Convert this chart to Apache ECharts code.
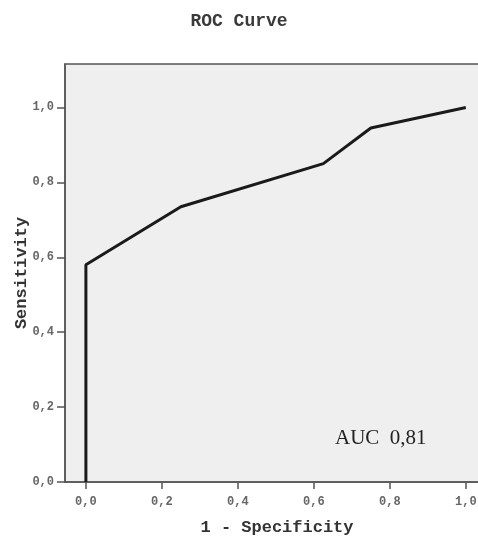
<!DOCTYPE html>
<html>
<head>
<meta charset="utf-8">
<script src="https://cdn.jsdelivr.net/npm/echarts@6/dist/echarts.min.js"></script>
<style>
html,body{margin:0;padding:0;background:#fff;}
#c{width:478px;height:537px;}
</style>
</head>
<body>
<div id="c"></div>
<script>
var titleText = 'ROC Curve';
var xName = '1 - Specificity';
var yName = 'Sensitivity';
var fpr = [0, 0, 0.25, 0.625, 0.75, 1.0];
var tpr = [0, 0.58, 0.735, 0.85, 0.945, 1.0];
var xTicks = [0, 0.2, 0.4, 0.6, 0.8, 1.0];
var yTicks = [0, 0.2, 0.4, 0.6, 0.8, 1.0];
var aucLabel = 'AUC  0,81';

var chart = echarts.init(document.getElementById('c'), null, {renderer: 'canvas'});
var mono = '"Liberation Mono", "DejaVu Sans Mono", monospace';
function fmt(v){ return v.toFixed(1).replace('.', ','); }

var pts = fpr.map(function(x, i){ return [x, tpr[i]]; });

chart.setOption({
  backgroundColor: '#ffffff',
  animation: false,
  title: {
    text: titleText,
    left: 'center',
    top: 7,
    textStyle: {fontFamily: mono, fontSize: 18, fontWeight: 'bold', color: '#3a3a3a'}
  },
  grid: {
    left: 65, top: 64, width: 424, height: 418,
    containLabel: false, outerBoundsMode: 'none',
    show: true, backgroundColor: '#efefef', borderColor: '#555', borderWidth: 1.5
  },
  xAxis: {
    type: 'value', min: -0.055, max: 1.061,
    name: xName, nameLocation: 'middle', nameGap: 37, nameMoveOverlap: false,
    nameTextStyle: {fontFamily: mono, fontSize: 17, fontWeight: 'bold', color: '#333'},
    axisLine: {show: true, onZero: false, lineStyle: {color: '#555', width: 1.5}},
    axisTick: {show: true, length: 7, customValues: xTicks, lineStyle: {color: '#555', width: 1.5}},
    axisLabel: {customValues: xTicks, formatter: fmt, margin: 14,
      fontFamily: mono, fontSize: 12, fontWeight: 'bold', color: '#666'},
    splitLine: {show: false}
  },
  yAxis: {
    type: 'value', min: 0, max: 1.116,
    name: yName, nameLocation: 'middle', nameGap: 35, nameMoveOverlap: false,
    nameTextStyle: {fontFamily: mono, fontSize: 17, fontWeight: 'bold', color: '#333'},
    axisLine: {show: true, onZero: false, lineStyle: {color: '#555', width: 1.5}},
    axisTick: {show: true, length: 8, customValues: yTicks, lineStyle: {color: '#555', width: 1.5}},
    axisLabel: {customValues: yTicks, formatter: fmt, margin: 11,
      fontFamily: mono, fontSize: 12, fontWeight: 'bold', color: '#666'},
    splitLine: {show: false}
  },
  series: [{
    type: 'line',
    data: pts,
    showSymbol: false,
    lineStyle: {color: '#1a1a1a', width: 3},
    z: 5
  }],
  graphic: [{
    type: 'text',
    left: 335, top: 428,
    style: {text: aucLabel, fontFamily: '"Liberation Serif", "DejaVu Serif", serif', fontSize: 21, fill: '#222'}
  }]
});
</script>
</body>
</html>
